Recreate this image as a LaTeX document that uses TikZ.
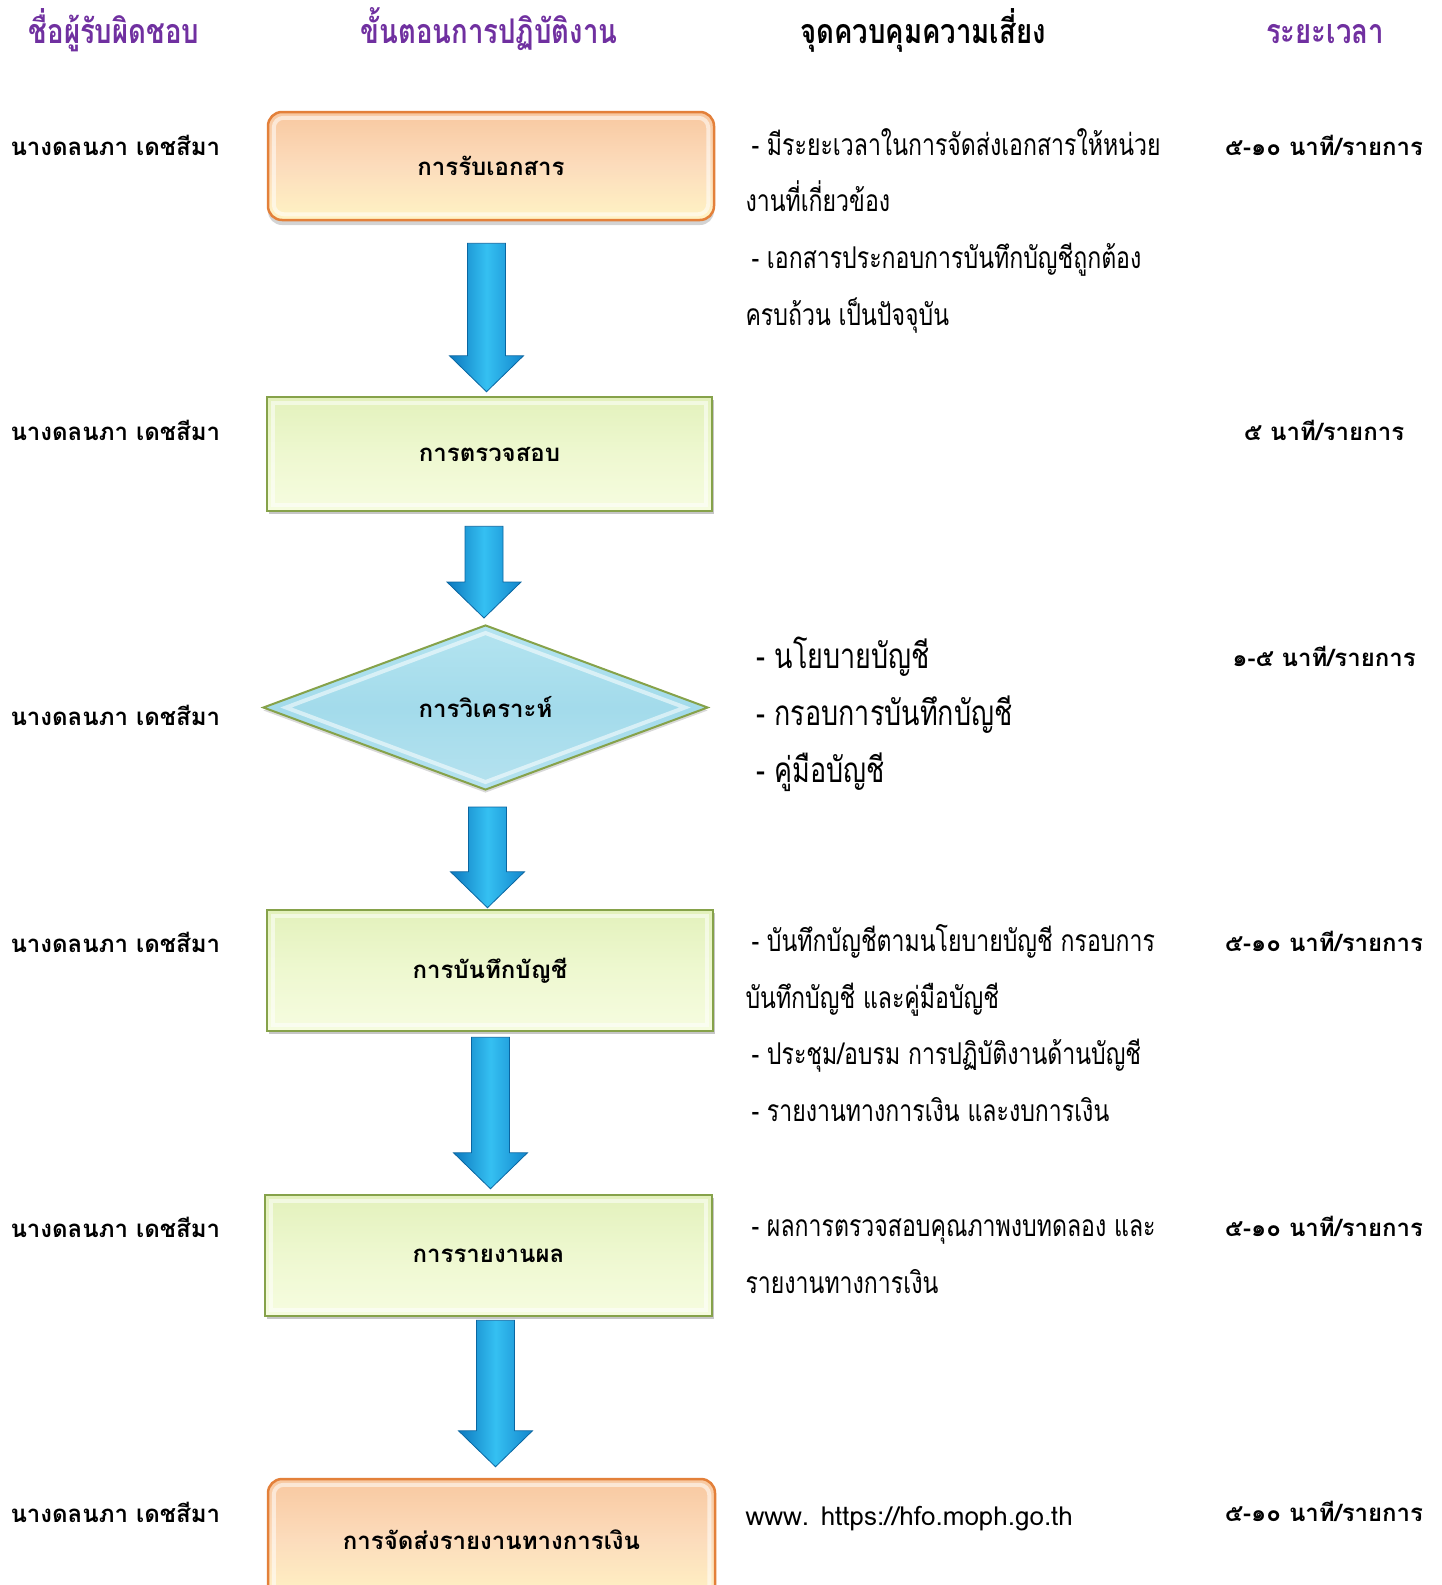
\documentclass[tikz,border=0pt]{standalone}
\usepackage{fontspec}
\setmainfont{Loma}[Script=Thai]
\newfontfamily\cond{Loma}[Script=Thai,FakeStretch=0.77]
\newfontfamily\condh{Loma}[Script=Thai,FakeStretch=0.81]
\usetikzlibrary{shapes.geometric,shadows,calc}
\definecolor{hdr}{HTML}{7030A0}
\definecolor{orbrd}{HTML}{E3803A}
\definecolor{ortop}{HTML}{F8C8A0}
\definecolor{ormid}{HTML}{FCDCBC}
\definecolor{orbot}{HTML}{FFF3C4}
\definecolor{grbrd}{HTML}{86A24A}
\definecolor{grtop}{HTML}{E3F1BC}
\definecolor{grmid}{HTML}{EEF8D0}
\definecolor{grbot}{HTML}{F6FCE0}
\definecolor{blfill}{HTML}{A3DBEB}
\definecolor{bltop}{HTML}{B4E4F0}
\definecolor{arrL}{HTML}{0C78BE}
\definecolor{arrM}{HTML}{35C0F2}
\definecolor{arrR}{HTML}{1386CC}
\tikzset{
  lbl/.style={font=\bfseries\fontsize{24}{28}\selectfont, text=black},
  orbox/.style={lbl, rounded corners=14pt, draw=orbrd, line width=2.5pt,
    top color=ortop, bottom color=orbot, middle color=ormid,
    drop shadow={shadow xshift=0pt, shadow yshift=-5pt, opacity=0.35}},
  grbox/.style={lbl, draw=grbrd, line width=2.5pt,
    top color=grtop, bottom color=grbot, middle color=grmid,
    drop shadow={shadow xshift=2pt, shadow yshift=-3pt, opacity=0.45}},
  dmd/.style={lbl, diamond, draw=grbrd, line width=2pt, inner sep=0pt,
    top color=bltop, bottom color=blfill!80!white, middle color=blfill,
    drop shadow={shadow xshift=0pt, shadow yshift=-3pt, opacity=0.3}},
  bevelline/.style={white, opacity=0.55, line width=4pt},
  arrowfill/.style={left color=arrL, right color=arrR, middle color=arrM,
    draw=arrL!85!black, line width=0.8pt},
  hd/.style={font=\condh\bfseries\fontsize{34}{40}\selectfont, anchor=base},
  who/.style={font=\bfseries\fontsize{24}{28}\selectfont, anchor=base west},
  tm/.style={font=\bfseries\fontsize{24}{28}\selectfont, anchor=base},
  body/.style={font=\cond\fontsize{30}{36}\selectfont, anchor=base west},
  bigbody/.style={font=\cond\fontsize{35}{42}\selectfont, anchor=base west},
  url/.style={font=\fontsize{26}{30}\selectfont, anchor=base west},
}
\newcommand\blockarr[2]{%
  \path[arrowfill] let \p1=(#1), \p2=(#2) in
    (\x1-19pt,\y1) -- (\x1+19pt,\y1) -- (\x1+19pt,\y2+36pt) -- (\x1+37pt,\y2+36pt)
    -- (\x2,\y2) -- (\x1-37pt,\y2+36pt) -- (\x1-19pt,\y2+36pt) -- cycle;}
\newcommand\bevelrect[2]{% node name, corner radius
  \draw[bevelline, rounded corners=#2] ($(#1.north west)+(7pt,-7pt)$) rectangle ($(#1.south east)+(-7pt,7pt)$);}
\begin{document}
\begin{tikzpicture}[x=1pt,y=-1pt]
\useasboundingbox (0,0) rectangle (1442,1585);
\clip (0,0) rectangle (1442,1585);
% headers
\node[hd, text=hdr] (h1) at (114,43) {ชื่อผู้รับผิดชอบ};
\node[hd, text=hdr] (h2) at (489,43) {ขั้นตอนการปฏิบัติงาน};
\node[hd, text=black] (h3) at (923,43) {จุดควบคุมความเสี่ยง};
\node[hd, text=hdr] (h4) at (1325,43) {ระยะเวลา};
% flow
\node[orbox, minimum width=446pt, minimum height=108pt] (b1) at (491,166) {การรับเอกสาร};
\node[grbox, minimum width=445pt, minimum height=114pt] (b2) at (489.5,454) {การตรวจสอบ};
\node[dmd, minimum width=445pt, minimum height=165pt] (b3) at (485.5,707.5) {การวิเคราะห์};
\node[grbox, minimum width=446pt, minimum height=121pt] (b4) at (490,970.5) {การบันทึกบัญชี};
\node[grbox, minimum width=447pt, minimum height=121pt] (b5) at (488.5,1255.5) {การรายงานผล};
\node[orbox, minimum width=447pt, minimum height=122pt] (b6) at (491.5,1540) {การจัดส่งรายงานทางการเงิน};
% bevel highlights
\bevelrect{b1}{10pt}
\bevelrect{b2}{0pt}
\bevelrect{b4}{0pt}
\bevelrect{b5}{0pt}
\bevelrect{b6}{10pt}
\draw[bevelline] ($(b3.north)+(0,9)$) -- ($(b3.east)+(-24,0)$) -- ($(b3.south)+(0,-9)$) -- ($(b3.west)+(24,0)$) -- cycle;
% arrows
\coordinate (a1s) at ($(b1.south)+(-4.5,22)$);
\coordinate (a1e) at ($(b2.north)+(-3,-4)$);
\coordinate (a2s) at ($(b2.south)+(-5.5,14)$);
\coordinate (a2e) at ($(b3.north)+(-1.5,-6)$);
\coordinate (a3s) at ($(b3.south)+(2,16)$);
\coordinate (a3e) at ($(b4.north)+(-2.5,-1)$);
\coordinate (a4s) at ($(b4.south)+(0.5,5)$);
\coordinate (a4e) at ($(b5.north)+(2,-5)$);
\coordinate (a5s) at ($(b5.south)+(7,3)$);
\coordinate (a5e) at ($(b6.north)+(4,-11)$);
\blockarr{a1s}{a1e}
\blockarr{a2s}{a2e}
\blockarr{a3s}{a3e}
\blockarr{a4s}{a4e}
\blockarr{a5s}{a5e}
% responsible
\node[who] (w1) at (7,155) {นางดลนภา เดชสีมา};
\node[who] (w2) at (7,440) {นางดลนภา เดชสีมา};
\node[who] (w3) at (7,725) {นางดลนภา เดชสีมา};
\node[who] (w4) at (7,952) {นางดลนภา เดชสีมา};
\node[who] (w5) at (7,1237) {นางดลนภา เดชสีมา};
\node[who] (w6) at (7,1522) {นางดลนภา เดชสีมา};
% time
\node[tm] (t1) at (1324,155) {๕-๑๐ นาที/รายการ};
\node[tm] (t2) at (1324,440) {๕ นาที/รายการ};
\node[tm] (t3) at (1324,666) {๑-๕ นาที/รายการ};
\node[tm] (t4) at (1324,951) {๕-๑๐ นาที/รายการ};
\node[tm] (t5) at (1324,1236) {๕-๑๐ นาที/รายการ};
\node[tm] (t6) at (1324,1521) {๕-๑๐ นาที/รายการ};
% risk control text
\node[body] (r1) at (748,155) {- มีระยะเวลาในการจัดส่งเอกสารให้หน่วย};
\node[body] (r2) at (742,211) {งานที่เกี่ยวข้อง};
\node[body] (r3) at (748,268) {- เอกสารประกอบการบันทึกบัญชีถูกต้อง};
\node[body] (r4) at (742,325) {ครบถ้วน เป็นปัจจุบัน};
\node[bigbody] (r5) at (753,668) {- นโยบายบัญชี};
\node[bigbody] (r6) at (753,725) {- กรอบการบันทึกบัญชี};
\node[bigbody] (r7) at (753,782) {- คู่มือบัญชี};
\node[body] (r8) at (748,951) {- บันทึกบัญชีตามนโยบายบัญชี กรอบการ};
\node[body] (r9) at (742,1008) {บันทึกบัญชี และคู่มือบัญชี};
\node[body] (r10) at (748,1064) {- ประชุม/อบรม การปฏิบัติงานด้านบัญชี};
\node[body] (r11) at (748,1121) {- รายงานทางการเงิน และงบการเงิน};
\node[body] (r12) at (748,1236) {- ผลการตรวจสอบคุณภาพงบทดลอง และ};
\node[body] (r13) at (742,1293) {รายงานทางการเงิน};
\node[url] (r14) at (742,1525) {www. https://hfo.moph.go.th};
\end{tikzpicture}
\end{document}
